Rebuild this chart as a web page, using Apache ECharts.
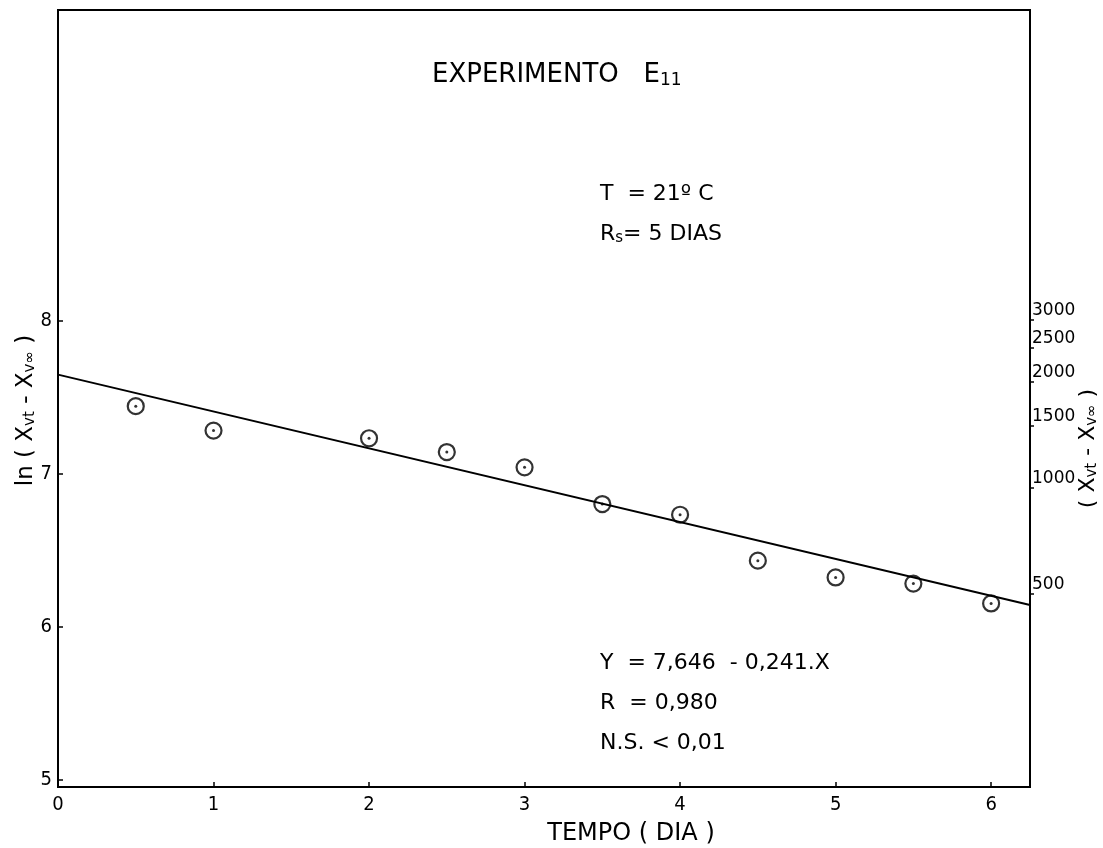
<!DOCTYPE html>
<html>
<head>
<meta charset="utf-8">
<script src="https://cdn.jsdelivr.net/npm/echarts@6/dist/echarts.min.js"></script>
<style>
  html, body { margin: 0; padding: 0; background: #fff; }
  #chart { width: 1103px; height: 848px; }
</style>
</head>
<body>
<div id="chart"></div>
<script>
// ---- data ----
const xDays = [0.5, 1, 2, 2.5, 3, 3.5, 4, 4.5, 5, 5.5, 6];
const lnValues = [7.44, 7.28, 7.23, 7.14, 7.04, 6.80, 6.73, 6.43, 6.32, 6.28, 6.15];
const fitIntercept = 7.646;
const fitSlope = -0.241;
const xTickValues = [0, 1, 2, 3, 4, 5, 6];
const leftTickValues = [5, 6, 7, 8];
const rightTickLabels = [500, 1000, 1500, 2000, 2500, 3000];

const X_MIN = 0, X_MAX = 6.25;
const Y_MIN = 4.95, Y_MAX = 10.03;

const FONT = "'DejaVu Sans', 'Liberation Sans', sans-serif";
const FONT_C = "'DejaVu Sans Condensed', 'DejaVu Sans', sans-serif";

const points = xDays.map((x, i) => [x, lnValues[i]]);
const fitLine = [X_MIN, X_MAX].map(x => [x, fitIntercept + fitSlope * x]);

const chart = echarts.init(document.getElementById('chart'), null, { renderer: 'canvas' });

const subStyle = (fs, pad) => ({ fontSize: fs, fontFamily: FONT, color: '#000', fill: '#000', verticalAlign: 'bottom', padding: [pad, 0, 0, 0] });

const option = {
  backgroundColor: '#ffffff',
  animation: false,
  grid: {
    left: 58, right: 73, top: 10, bottom: 61,
    containLabel: false, outerBoundsMode: 'none',
    show: true, borderColor: '#000', borderWidth: 2, backgroundColor: 'transparent'
  },
  xAxis: {
    type: 'value', min: X_MIN, max: X_MAX,
    axisLine: { show: true, lineStyle: { color: '#000', width: 2 } },
    axisTick: { show: true, inside: true, length: 5, customValues: xTickValues, lineStyle: { color: '#000', width: 1.5 } },
    axisLabel: { customValues: xTickValues, color: '#000', fontSize: 20, fontFamily: FONT_C, margin: 8 },
    splitLine: { show: false },
    name: 'TEMPO ( DIA )',
    nameLocation: 'middle',
    nameGap: 35,
    nameMoveOverlap: false,
    nameTextStyle: { color: '#000', fontSize: 24, fontFamily: FONT, padding: [0, 0, 0, 174] }
  },
  yAxis: [
    {
      type: 'value', min: Y_MIN, max: Y_MAX, position: 'left',
      axisLine: { show: true, lineStyle: { color: '#000', width: 2 } },
      axisTick: { show: true, inside: true, length: 5, customValues: leftTickValues, lineStyle: { color: '#000', width: 1.5 } },
      axisLabel: { customValues: leftTickValues, color: '#000', fontSize: 20, fontFamily: FONT_C, margin: 6 },
      splitLine: { show: false },
      name: 'ln ( X{sub|vt} - X{sub|v∞} )',
      nameLocation: 'middle',
      nameRotate: 90,
      nameGap: 20,
      nameMoveOverlap: false,
      nameTextStyle: {
        color: '#000', fontSize: 23, fontFamily: FONT, padding: [0, 24, 0, 0],
        rich: { sub: subStyle(15, 9) }
      }
    },
    {
      type: 'value', min: Y_MIN, max: Y_MAX, position: 'right',
      axisLine: { show: true, lineStyle: { color: '#000', width: 2 } },
      axisTick: { show: true, inside: false, length: 4, customValues: rightTickLabels.map(v => Math.log(v)), lineStyle: { color: '#000', width: 1.5 } },
      axisLabel: {
        customValues: rightTickLabels.map(v => Math.log(v)),
        formatter: v => String(Math.round(Math.exp(v))),
        color: '#000', fontSize: 17, fontFamily: FONT, margin: 2, verticalAlign: 'bottom'
      },
      splitLine: { show: false },
      name: '( X{sub|vt} - X{sub|v∞} )',
      nameLocation: 'middle',
      nameRotate: 90,
      nameGap: 46,
      nameMoveOverlap: false,
      nameTextStyle: {
        color: '#000', fontSize: 22, fontFamily: FONT, padding: [0, 100, 0, 0],
        rich: { sub: subStyle(15, 9) }
      }
    }
  ],
  series: [
    {
      type: 'line', data: fitLine, yAxisIndex: 0,
      showSymbol: false, symbol: 'none',
      lineStyle: { color: '#000', width: 2 }, silent: true, z: 2
    },
    {
      type: 'scatter', data: points, yAxisIndex: 0,
      symbol: 'circle', symbolSize: 16,
      itemStyle: { color: 'rgba(0,0,0,0)', borderColor: '#000', borderWidth: 2.2 }, z: 3
    },
    {
      type: 'scatter', data: points, yAxisIndex: 0,
      symbol: 'circle', symbolSize: 3,
      itemStyle: { color: '#000' }, z: 4
    }
  ],
  graphic: [
    {
      type: 'text', left: 432, top: 62,
      style: {
        text: 'EXPERIMENTO   E{sub|11}', fill: '#000', font: '26px ' + FONT,
        rich: { sub: subStyle(17, 11) }
      }
    },
    {
      type: 'text', left: 600, top: 183,
      style: { text: 'T  = 21º C', fill: '#000', font: '22px ' + FONT }
    },
    {
      type: 'text', left: 600, top: 223,
      style: {
        text: 'R{sub|s}= 5 DIAS', fill: '#000', font: '22px ' + FONT,
        rich: { sub: subStyle(15, 9) }
      }
    },
    {
      type: 'text', left: 600, top: 652,
      style: { text: 'Y  = 7,646  - 0,241.X', fill: '#000', font: '22px ' + FONT }
    },
    {
      type: 'text', left: 600, top: 692,
      style: { text: 'R  = 0,980', fill: '#000', font: '22px ' + FONT }
    },
    {
      type: 'text', left: 600, top: 732,
      style: { text: 'N.S. < 0,01', fill: '#000', font: '22px ' + FONT }
    }
  ]
};

chart.setOption(option);
</script>
</body>
</html>
